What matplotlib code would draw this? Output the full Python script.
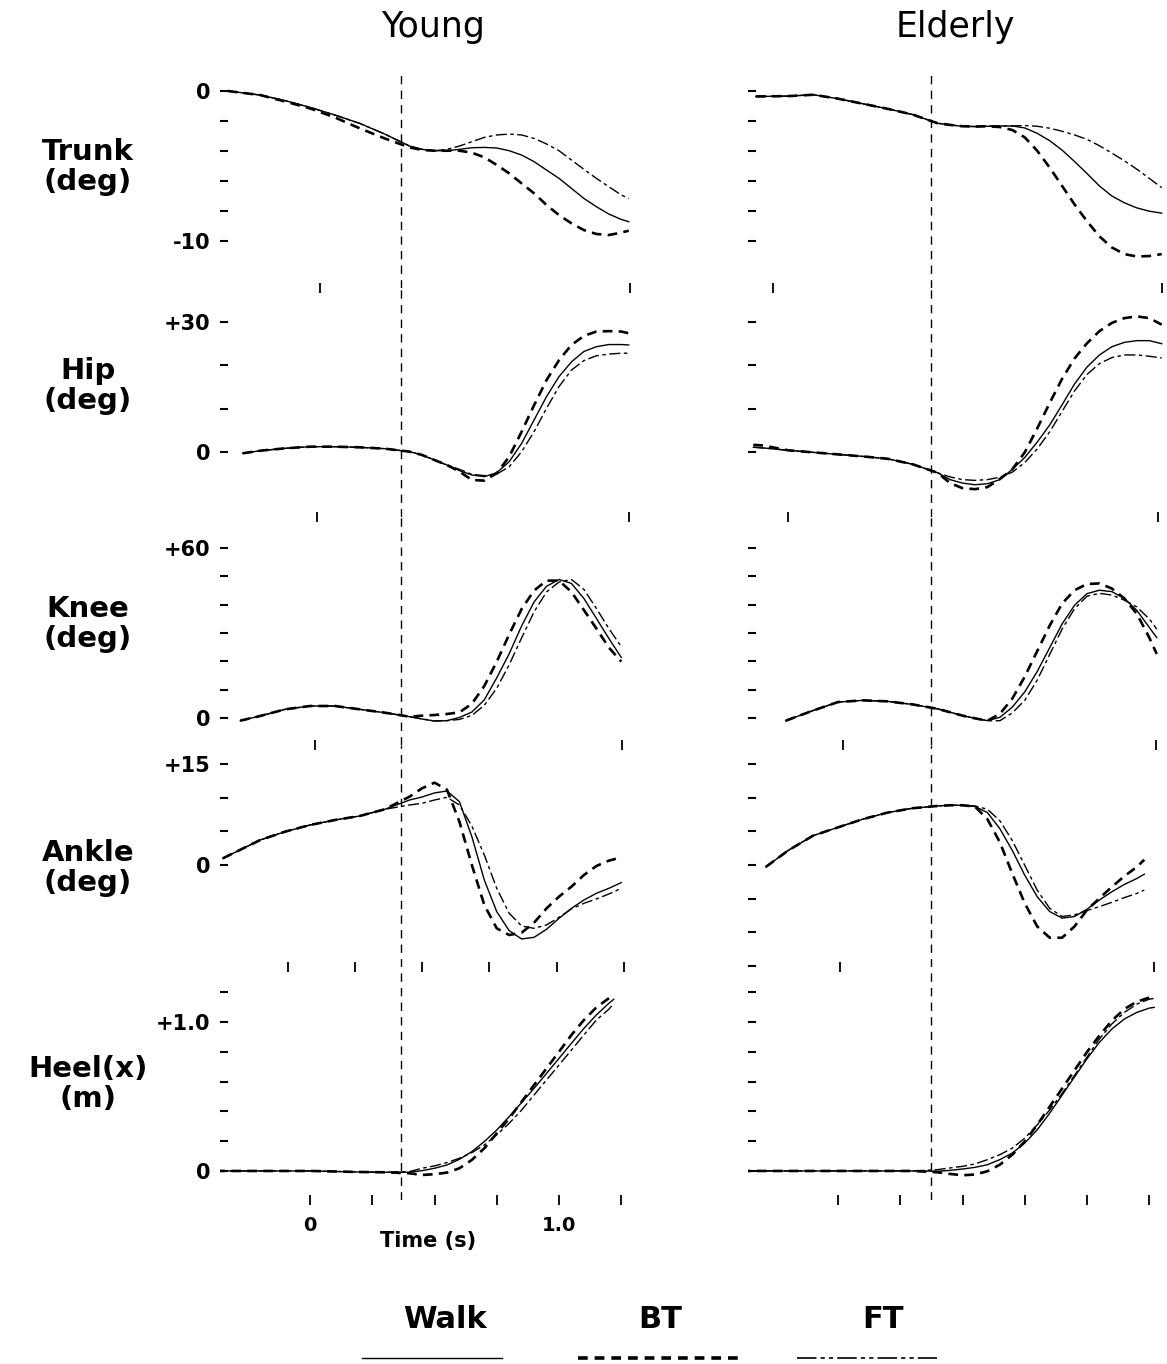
import matplotlib
matplotlib.use("Agg")
import matplotlib.pyplot as plt
from matplotlib.lines import Line2D

plt.rcParams['font.family'] = ['DejaVu Sans']
plt.rcParams['lines.scale_dashes'] = False

# ---------------------------------------------------------------- data
groups = ["Young", "Elderly"]
conditions = ["Walk", "BT", "FT"]
row_labels = ["Trunk\n(deg)", "Hip\n(deg)", "Knee\n(deg)", "Ankle\n(deg)", "Heel(x)\n(m)"]

# time of the vertical event marker (s)
young_event_t = 0.365
elderly_event_t = 0.373

# --- Young
young_trunk_t = [-0.33, -0.2, -0.1, 0.0, 0.1, 0.2, 0.3, 0.4, 0.45, 0.5, 0.55, 0.6, 0.65, 0.7,
                 0.75, 0.8, 0.85, 0.9, 0.95, 1.0, 1.05, 1.1, 1.15, 1.2, 1.25, 1.28]
young_trunk_walk = [0, -0.27, -0.64, -1.09, -1.6, -2.16, -2.87, -3.67, -3.89, -3.98, -3.98, -3.89, -3.78,
                    -3.76, -3.8, -3.98, -4.27, -4.71, -5.27, -5.82, -6.49, -7.16, -7.71, -8.2, -8.56, -8.71]
young_trunk_bt = [0, -0.27, -0.7, -1.16, -1.76, -2.49, -3.16, -3.76, -3.93, -3.98, -3.98, -3.98, -4.11,
                  -4.42, -4.93, -5.49, -6.16, -6.82, -7.6, -8.27, -8.82, -9.27, -9.53, -9.6, -9.44, -9.31]
young_trunk_ft = [0, -0.27, -0.64, -1.09, -1.6, -2.16, -2.87, -3.67, -3.89, -3.98, -3.89, -3.67, -3.38,
                  -3.09, -2.93, -2.87, -2.93, -3.16, -3.53, -3.98, -4.6, -5.22, -5.82, -6.38, -6.93, -7.16]

young_hip_t = [-0.27, -0.2, -0.1, 0.0, 0.1, 0.2, 0.3, 0.4, 0.45, 0.5, 0.55, 0.6, 0.65, 0.7,
               0.75, 0.8, 0.85, 0.9, 0.95, 1.0, 1.05, 1.1, 1.15, 1.2, 1.25, 1.28]
young_hip_walk = [-0.3, 0.3, 0.85, 1.23, 1.23, 1.08, 0.77, 0.08, -0.69, -1.85, -3.0, -4.3, -5.3, -5.7,
                  -4.77, -2.23, 2.0, 7.4, 12.8, 17.4, 20.8, 23.2, 24.3, 24.8, 24.8, 24.7]
young_hip_bt = [-0.3, 0.3, 0.85, 1.23, 1.23, 1.08, 0.77, 0.08, -0.69, -1.85, -3.0, -4.5, -6.46, -6.6,
                -4.9, -1.08, 4.7, 10.8, 16.6, 21.2, 24.7, 26.8, 27.8, 27.9, 27.8, 27.4]
young_hip_ft = [-0.3, 0.3, 0.85, 1.23, 1.23, 1.08, 0.77, 0.08, -0.69, -1.85, -3.0, -4.0, -5.15, -5.45,
                -5.1, -3.4, 0.08, 4.7, 10.1, 15.1, 18.9, 21.1, 22.2, 22.6, 22.8, 22.8]

young_knee_t = [-0.28, -0.2, -0.1, 0.0, 0.1, 0.2, 0.3, 0.4, 0.45, 0.5, 0.55, 0.6, 0.65, 0.7,
                0.75, 0.8, 0.85, 0.9, 0.95, 1.0, 1.05, 1.1, 1.15, 1.2, 1.25]
young_knee_walk = [-0.94, 0.71, 3.06, 4.24, 4.24, 3.06, 1.88, 0.47, -0.35, -1.06, -0.94, 0.2, 2.1, 6.4,
                   14.2, 22.7, 32.5, 41.0, 46.5, 48.9, 47.5, 42.2, 35.2, 28.1, 21.4]
young_knee_bt = [-0.94, 0.71, 3.06, 4.24, 4.24, 3.06, 1.88, 0.47, 0.82, 1.06, 1.41, 2.0, 5.0, 11.3,
                 19.9, 29.5, 38.5, 45.0, 48.5, 48.5, 44.5, 38.1, 31.6, 24.9, 19.9]
young_knee_ft = [-0.94, 0.71, 3.06, 4.24, 4.24, 3.06, 1.88, 0.47, -0.35, -1.06, -0.94, -0.5, 0.9, 4.5,
                 10.5, 18.8, 28.3, 37.5, 44.5, 48.0, 48.9, 45.4, 38.7, 31.6, 25.2]

young_ankle_t = [-0.35, -0.2, -0.1, 0.0, 0.1, 0.2, 0.3, 0.4, 0.45, 0.5, 0.55, 0.6, 0.65, 0.7,
                 0.75, 0.8, 0.85, 0.9, 0.95, 1.0, 1.05, 1.1, 1.15, 1.2, 1.25]
young_ankle_walk = [0.99, 3.71, 4.95, 5.94, 6.68, 7.28, 8.27, 9.65, 10.1, 10.7, 10.99, 9.41, 4.21, -2.23,
                    -6.93, -9.75, -10.99, -10.74, -9.55, -7.92, -6.44, -5.2, -4.21, -3.47, -2.62]
young_ankle_bt = [0.99, 3.71, 4.95, 5.94, 6.68, 7.28, 8.27, 10.15, 11.39, 12.23, 11.19, 6.44, 0.0, -5.94,
                  -9.41, -10.4, -10.05, -8.56, -6.44, -4.7, -3.22, -1.49, -0.15, 0.64, 1.14]
young_ankle_ft = [0.99, 3.71, 4.95, 5.94, 6.68, 7.28, 8.27, 8.91, 9.16, 9.65, 10.05, 8.91, 5.79, 1.49,
                  -3.47, -7.18, -9.06, -9.41, -8.91, -7.77, -6.53, -5.69, -5.05, -4.31, -3.47]

young_heel_t = [-0.38, -0.2, 0.0, 0.2, 0.3, 0.4, 0.45, 0.5, 0.55, 0.6, 0.65, 0.7, 0.75, 0.8,
                0.85, 0.9, 0.95, 1.0, 1.05, 1.1, 1.15, 1.2, 1.22]
young_heel_walk = [0.0, 0.0, 0.0, -0.007, -0.009, -0.009, 0.002, 0.018, 0.04, 0.078, 0.13, 0.197, 0.275,
                   0.365, 0.459, 0.555, 0.655, 0.756, 0.857, 0.957, 1.047, 1.125, 1.152]
young_heel_bt = [0.0, 0.0, 0.0, -0.007, -0.009, -0.016, -0.027, -0.022, -0.011, 0.018, 0.074, 0.152, 0.253,
                 0.353, 0.465, 0.577, 0.689, 0.8, 0.913, 1.013, 1.098, 1.159, 1.186]
young_heel_ft = [0.0, 0.0, 0.0, -0.007, -0.009, -0.004, 0.018, 0.034, 0.056, 0.085, 0.123, 0.174, 0.242,
                 0.32, 0.409, 0.51, 0.611, 0.711, 0.812, 0.913, 1.013, 1.085, 1.125]

# --- Elderly
elderly_trunk_t = [-0.33, -0.3, -0.2, -0.1, 0.0, 0.1, 0.2, 0.3, 0.4, 0.45, 0.5, 0.55, 0.6, 0.65,
                   0.7, 0.75, 0.8, 0.85, 0.9, 0.95, 1.0, 1.05, 1.1, 1.15, 1.2, 1.25, 1.3]
elderly_trunk_walk = [-0.36, -0.36, -0.34, -0.25, -0.51, -0.85, -1.19, -1.57, -2.15, -2.26, -2.35, -2.37,
                      -2.35, -2.33, -2.33, -2.46, -2.82, -3.31, -3.94, -4.7, -5.5, -6.33, -7.0, -7.45,
                      -7.79, -8.01, -8.14]
elderly_trunk_bt = [-0.36, -0.36, -0.34, -0.25, -0.51, -0.85, -1.19, -1.57, -2.15, -2.26, -2.35, -2.37,
                    -2.35, -2.4, -2.6, -3.09, -3.98, -5.1, -6.33, -7.56, -8.68, -9.69, -10.43, -10.87,
                    -11.03, -11.0, -10.87]
elderly_trunk_ft = [-0.36, -0.36, -0.34, -0.25, -0.51, -0.85, -1.19, -1.57, -2.15, -2.26, -2.35, -2.37,
                    -2.35, -2.33, -2.33, -2.3, -2.35, -2.48, -2.68, -2.93, -3.22, -3.65, -4.14, -4.65,
                    -5.21, -5.82, -6.44]

elderly_hip_t = [-0.34, -0.3, -0.2, -0.1, 0.0, 0.1, 0.2, 0.3, 0.4, 0.45, 0.5, 0.55, 0.6, 0.65,
                 0.7, 0.75, 0.8, 0.85, 0.9, 0.95, 1.0, 1.05, 1.1, 1.15, 1.2, 1.25, 1.3]
elderly_hip_walk = [1.1, 0.94, 0.39, -0.08, -0.55, -1.02, -1.57, -2.83, -4.8, -6.38, -7.17, -7.56, -7.32,
                    -6.38, -4.0, -1.26, 2.28, 6.22, 10.9, 15.7, 19.6, 22.4, 24.3, 25.3, 25.7, 25.7, 25.0]
elderly_hip_bt = [1.65, 1.5, 0.39, -0.08, -0.55, -1.02, -1.57, -2.83, -4.8, -7.17, -8.35, -8.58, -8.1,
                  -6.22, -4.0, -0.08, 5.43, 11.3, 16.9, 21.6, 25.1, 27.9, 29.8, 30.9, 31.3, 30.9, 29.4]
elderly_hip_ft = [1.1, 0.94, 0.39, -0.08, -0.55, -1.02, -1.57, -2.83, -4.8, -5.75, -6.38, -6.54, -6.38,
                  -5.83, -4.65, -2.44, 0.71, 4.65, 9.37, 14.1, 17.9, 20.4, 21.8, 22.4, 22.4, 22.1, 21.7]

elderly_knee_t = [-0.21, -0.1, 0.0, 0.1, 0.2, 0.3, 0.4, 0.45, 0.5, 0.55, 0.6, 0.65, 0.7, 0.75,
                  0.8, 0.85, 0.9, 0.95, 1.0, 1.05, 1.1, 1.15, 1.2, 1.25, 1.28]
elderly_knee_walk = [-0.96, 2.63, 5.63, 6.23, 5.87, 4.79, 3.23, 2.04, 0.84, -0.12, -0.96, 0.24, 3.83, 9.22,
                     16.4, 24.8, 33.2, 39.8, 43.9, 45.1, 44.6, 42.2, 38.0, 32.0, 28.4]
elderly_knee_bt = [-0.96, 2.63, 5.63, 6.23, 5.87, 4.79, 3.23, 2.04, 0.84, -0.12, -0.96, 1.44, 6.83, 14.6,
                   23.6, 32.6, 40.4, 45.1, 47.3, 47.5, 45.7, 42.2, 36.8, 28.4, 22.6]
elderly_knee_ft = [-0.96, 2.63, 5.63, 6.23, 5.87, 4.79, 3.23, 2.04, 0.84, -0.12, -0.96, -0.96, 1.8, 6.23,
                   13.4, 22.4, 31.4, 38.6, 43.0, 44.0, 43.4, 41.6, 39.2, 35.0, 31.4]

elderly_ankle_t = [-0.29, -0.2, -0.1, 0.0, 0.1, 0.2, 0.3, 0.4, 0.45, 0.5, 0.55, 0.6, 0.65, 0.7,
                   0.75, 0.8, 0.85, 0.9, 0.95, 1.0, 1.05, 1.1, 1.15, 1.2, 1.23]
elderly_ankle_walk = [-0.29, 2.16, 4.36, 5.59, 6.81, 7.79, 8.43, 8.77, 8.87, 8.87, 8.68, 7.79, 5.39, 2.16,
                      -1.52, -4.71, -6.91, -7.89, -7.65, -6.57, -5.2, -3.97, -2.89, -2.01, -1.37]
elderly_ankle_bt = [-0.29, 2.16, 4.36, 5.59, 6.81, 7.79, 8.43, 8.77, 8.87, 8.87, 8.68, 6.81, 3.38, -1.27,
                    -5.69, -9.12, -10.8, -10.8, -9.12, -6.67, -4.95, -3.24, -1.67, -0.29, 0.78]
elderly_ankle_ft = [-0.29, 2.16, 4.36, 5.59, 6.81, 7.79, 8.43, 8.77, 8.87, 8.87, 8.77, 8.28, 6.57, 3.63,
                    -0.05, -3.73, -6.42, -7.65, -7.4, -6.76, -6.18, -5.54, -4.85, -4.22, -3.73]

elderly_heel_t = [-0.39, -0.2, 0.0, 0.2, 0.3, 0.4, 0.45, 0.5, 0.55, 0.6, 0.65, 0.7, 0.75, 0.8,
                  0.85, 0.9, 0.95, 1.0, 1.05, 1.1, 1.15, 1.2, 1.25, 1.27]
elderly_heel_walk = [0, 0, 0, 0, 0, -0.002, 0.004, 0.013, 0.024, 0.042, 0.076, 0.12, 0.187, 0.276,
                     0.387, 0.509, 0.631, 0.753, 0.864, 0.953, 1.02, 1.064, 1.093, 1.098]
elderly_heel_bt = [0, 0, 0, 0, 0, -0.009, -0.02, -0.029, -0.024, -0.002, 0.042, 0.109, 0.198, 0.309,
                   0.431, 0.553, 0.676, 0.798, 0.909, 1.009, 1.087, 1.136, 1.164, 1.164]
elderly_heel_ft = [0, 0, 0, 0, 0, 0.009, 0.02, 0.031, 0.047, 0.076, 0.109, 0.153, 0.22, 0.309,
                   0.409, 0.52, 0.642, 0.764, 0.887, 0.987, 1.064, 1.12, 1.153, 1.158]

# y ticks of each row; labelled values are shown on the Young column only
trunk_ticks = [0, -2, -4, -6, -8, -10]
hip_ticks = [0, 10, 20, 30]
knee_ticks = [0, 10, 20, 30, 40, 50, 60]
young_ankle_ticks = [0, 5, 10, 15]
elderly_ankle_ticks = [-15, -10, -5, 0, 5, 10, 15]
heel_ticks = [0, 0.2, 0.4, 0.6, 0.8, 1.0, 1.2]
trunk_tick_labels = {0: "0", -10: "-10"}
hip_tick_labels = {0: "0", 30: "+30"}
knee_tick_labels = {0: "0", 60: "+60"}
ankle_tick_labels = {0: "0", 15: "+15"}
heel_tick_labels = {0: "0", 1.0: "+1.0"}

# small time marks along the lower edge of each panel
young_time_marks = [[0.04, 1.285], [0.03, 1.28], [0.02, 1.255],
                    [-0.09, 0.18, 0.45, 0.72, 0.99, 1.26], [0.0, 0.25, 0.5, 0.75, 1.0, 1.25]]
elderly_time_marks = [[-0.26, 1.30], [-0.2, 1.285], [0.02, 1.277],
                      [0.01, 1.27], [0.0, 0.25, 0.5, 0.75, 1.0, 1.25]]
time_tick_labels = {0.0: "0", 1.0: "1.0"}

# ---------------------------------------------------------------- assemble
series = {
    "Young": [
        (young_trunk_t, young_trunk_walk, young_trunk_bt, young_trunk_ft),
        (young_hip_t, young_hip_walk, young_hip_bt, young_hip_ft),
        (young_knee_t, young_knee_walk, young_knee_bt, young_knee_ft),
        (young_ankle_t, young_ankle_walk, young_ankle_bt, young_ankle_ft),
        (young_heel_t, young_heel_walk, young_heel_bt, young_heel_ft),
    ],
    "Elderly": [
        (elderly_trunk_t, elderly_trunk_walk, elderly_trunk_bt, elderly_trunk_ft),
        (elderly_hip_t, elderly_hip_walk, elderly_hip_bt, elderly_hip_ft),
        (elderly_knee_t, elderly_knee_walk, elderly_knee_bt, elderly_knee_ft),
        (elderly_ankle_t, elderly_ankle_walk, elderly_ankle_bt, elderly_ankle_ft),
        (elderly_heel_t, elderly_heel_walk, elderly_heel_bt, elderly_heel_ft),
    ],
}
yticks = {
    "Young": [trunk_ticks, hip_ticks, knee_ticks, young_ankle_ticks, heel_ticks],
    "Elderly": [trunk_ticks, hip_ticks, knee_ticks, elderly_ankle_ticks, heel_ticks],
}
ytick_labels = [trunk_tick_labels, hip_tick_labels, knee_tick_labels, ankle_tick_labels, heel_tick_labels]
time_marks = {"Young": young_time_marks, "Elderly": elderly_time_marks}
event_t = {"Young": young_event_t, "Elderly": elderly_event_t}

# ---------------------------------------------------------------- layout
W, H = 1167, 1364
fig = plt.figure(figsize=(W / 100, H / 100), dpi=100)
fig.patch.set_facecolor("white")

px_per_s = 249.0
t_origin_px = {"Young": 310.0, "Elderly": 838.0}
xlim = (-0.36, 1.31)
row_edges = [70, 288, 517, 745, 967, 1200]
row_ylims = [(-13.13, 1.4), (-15.0, 37.85), (-9.53, 70.95), (-15.15, 17.82), (-0.195, 1.369)]

styles = {
    "Walk": dict(color="black", lw=1.0, linestyle="-"),
    "BT": dict(color="black", lw=1.9, dashes=(7, 4.5)),
    "FT": dict(color="black", lw=1.0, dashes=(8, 2.5, 2.5, 2.5)),
}

bold_num = dict(fontsize=15, fontweight="bold")

for g in groups:
    left = t_origin_px[g] + xlim[0] * px_per_s
    width = (xlim[1] - xlim[0]) * px_per_s
    for r in range(5):
        top, bot = row_edges[r], row_edges[r + 1]
        ax = fig.add_axes([left / W, 1 - bot / H, width / W, (bot - top) / H])
        ax.set_xlim(*xlim)
        ax.set_ylim(*row_ylims[r])
        for sp in ax.spines.values():
            sp.set_visible(False)
        ax.patch.set_alpha(0)

        t, walk, bt, ft = series[g][r]
        ax.plot(t, bt, **styles["BT"])
        ax.plot(t, walk, **styles["Walk"])
        ax.plot(t, ft, **styles["FT"])

        ax.axvline(event_t[g], color="black", lw=1.0, dashes=(6, 4.5))

        ticks = yticks[g][r]
        ax.set_yticks(ticks)
        if g == "Young":
            ax.set_yticklabels([ytick_labels[r].get(v, "") for v in ticks], **bold_num)
        else:
            ax.set_yticklabels([])
        ax.tick_params(axis="y", direction="in", length=6, width=1.5, pad=7)

        marks = time_marks[g][r]
        ax.set_xticks(marks)
        if g == "Young" and r == 4:
            ax.set_xticklabels([time_tick_labels.get(v, "") for v in marks], fontsize=14,
                               fontweight="bold")
        else:
            ax.set_xticklabels([])
        ax.tick_params(axis="x", direction="inout", length=7, width=1.3, pad=8)

# column titles
fig.text(433 / W, 1 - 27 / H, "Young", ha="center", va="center", fontsize=25)
fig.text(955 / W, 1 - 27 / H, "Elderly", ha="center", va="center", fontsize=25)

# row titles
row_label_y = [167, 386, 624, 868, 1084]
for lbl, yc in zip(row_labels, row_label_y):
    fig.text(88 / W, 1 - yc / H, lbl, ha="center", va="center", fontsize=21,
             fontweight="bold", linespacing=1.1)

# time axis title
fig.text(428 / W, 1 - 1241 / H, "Time (s)", ha="center", va="center", fontsize=15,
         fontweight="bold")

# key
key_text_y = 1320
key_line_y = 1358
key_items = [("Walk", 445, 362, 502), ("BT", 660, 578, 740), ("FT", 883, 797, 937)]
key_styles = {
    "Walk": dict(color="black", lw=1.0, linestyle="-"),
    "BT": dict(color="black", lw=2.6, dashes=(7, 5)),
    "FT": dict(color="black", lw=1.2, dashes=(14, 3, 3, 3, 3, 3)),
}
for name, xc, x0, x1 in key_items:
    fig.text(xc / W, 1 - key_text_y / H, name, ha="center", va="center", fontsize=22,
             fontweight="bold")
    fig.add_artist(Line2D([x0 / W, x1 / W], [1 - key_line_y / H] * 2,
                          transform=fig.transFigure, **key_styles[name]))

fig.savefig("out.png", dpi=100, facecolor="white")
